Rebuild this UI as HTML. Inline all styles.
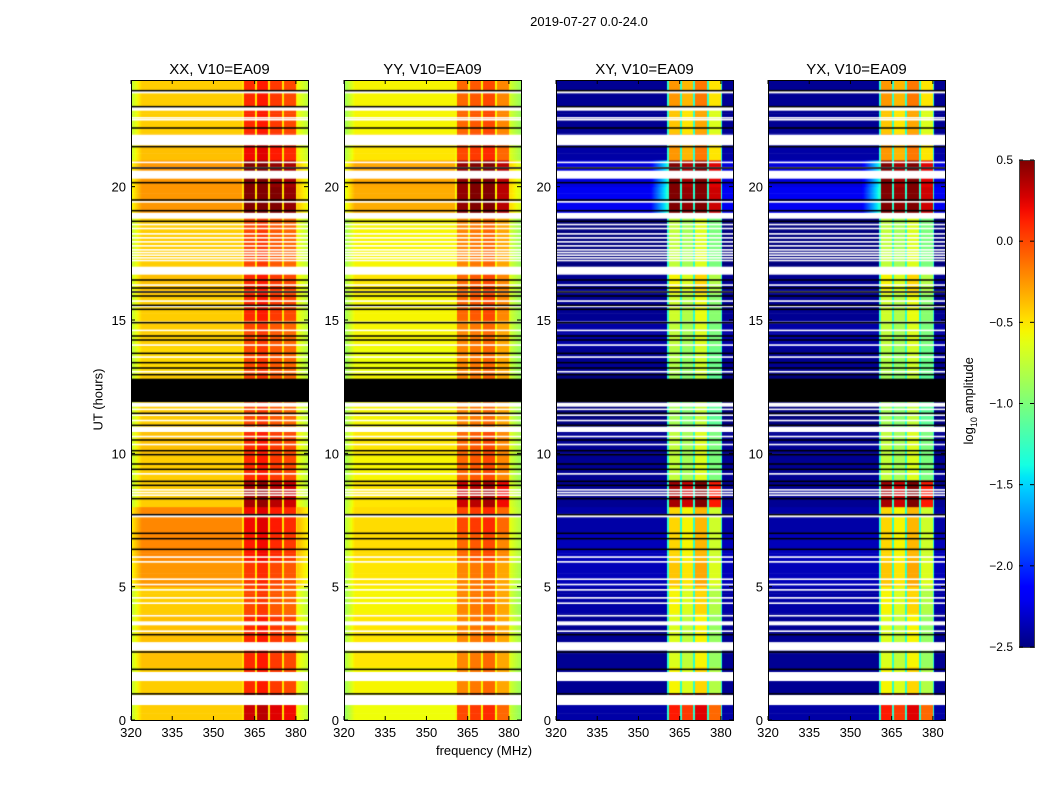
<!DOCTYPE html>
<html><head><meta charset="utf-8">
<style>
body{margin:0;background:#fff;width:1050px;height:800px;overflow:hidden;position:relative;font-family:"Liberation Sans","DejaVu Sans",sans-serif;}
.t{position:absolute;white-space:nowrap;color:#000;}
canvas{position:absolute;}
</style></head><body>
<div class="t" style="left:489px;top:14px;width:200px;text-align:center;font-size:13px;">2019-07-27 0.0-24.0</div>
<div class="t" style="left:40px;top:392px;width:116px;text-align:center;font-size:13px;transform:rotate(-90deg);">UT (hours)</div>
<div class="t" style="left:404px;top:743px;width:160px;text-align:center;font-size:13px;">frequency (MHz)</div>
<div class="t" style="left:910px;top:392px;width:120px;text-align:center;font-size:13px;transform:rotate(-90deg);">log<sub style="font-size:9px">10</sub> amplitude</div>
<svg id="svg" width="1050" height="800" style="position:absolute;left:0;top:0"></svg>
<script>
// ---- data ----
const panelTitles = ["XX, V10=EA09","YY, V10=EA09","XY, V10=EA09","YX, V10=EA09"];
const xTicks = [320,335,350,365,380];
const yTicks = [0,5,10,15,20];
const cbTicks = [0.5,0.0,-0.5,-1.0,-1.5,-2.0,-2.5];
// hourly levels (log10 amplitude) for 0..23 h
const xxLow  = [-0.42,-0.42,-0.38,-0.38,-0.42,-0.25,-0.2,-0.2,-0.42,-0.42,-0.38,-0.42,-0.42,-0.46,-0.42,-0.42,-0.38,-0.42,-0.42,-0.25,-0.25,-0.38,-0.42,-0.42];
const xxHigh = [0.2,0.0,0.0,0.0,-0.1,-0.05,0.05,0.1,0.3,0.0,0.0,-0.1,-0.1,-0.1,-0.1,0.0,0.0,-0.1,-0.1,0.45,0.4,0.1,0.0,0.0];
const yyLow  = [-0.58,-0.55,-0.5,-0.5,-0.55,-0.5,-0.47,-0.47,-0.5,-0.55,-0.5,-0.55,-0.55,-0.58,-0.55,-0.55,-0.5,-0.55,-0.55,-0.32,-0.3,-0.5,-0.55,-0.55];
const yyHigh = [0.0,-0.2,-0.2,-0.2,-0.2,-0.2,-0.1,0.0,0.3,-0.1,-0.1,-0.2,-0.2,-0.2,-0.2,-0.1,-0.1,-0.2,-0.2,0.45,0.45,0.0,-0.1,-0.1];
const xyLow  = [-2.4,-2.45,-2.45,-2.45,-2.4,-2.35,-2.35,-2.4,-2.45,-2.45,-2.45,-2.5,-2.5,-2.45,-2.4,-2.45,-2.45,-2.5,-2.5,-2.2,-2.25,-2.4,-2.45,-2.45];
const xyHigh = [0.1,-0.6,-0.7,-0.7,-0.6,-0.45,-0.5,-0.5,0.35,-0.8,-0.8,-0.9,-0.9,-0.85,-0.8,-0.75,-0.6,-0.8,-0.8,0.5,0.45,-0.3,-0.45,-0.3];
const yxLow  = [-2.4,-2.45,-2.45,-2.45,-2.4,-2.35,-2.35,-2.4,-2.45,-2.45,-2.45,-2.5,-2.5,-2.45,-2.4,-2.45,-2.45,-2.5,-2.5,-2.2,-2.25,-2.4,-2.45,-2.45];
const yxHigh = [0.1,-0.6,-0.7,-0.7,-0.6,-0.45,-0.5,-0.5,0.35,-0.8,-0.8,-0.9,-0.9,-0.85,-0.8,-0.75,-0.6,-0.8,-0.8,0.5,0.45,-0.3,-0.45,-0.3];
const gapLevel = [-0.5,-0.55,-1.3,-1.3];
const subBandOffset = [[0.1,0.15,0.05,0.0],[0.0,0.05,0.1,-0.1],[0.05,-0.05,0.15,-0.2],[0.05,-0.05,0.15,-0.2]];
const subBandEdges = [360.7,365.4,370.3,375.2,380.2];
// flagged (white) intervals in hours
const flagStart = [0.56,1.46,2.6,3.3,3.55,3.88,4.35,4.55,4.85,5.05,5.25,5.9,6.08,7.6,8.4,8.5,8.6,9.2,10.3,10.6,10.8,11.2,11.4,11.62,11.75,12.58,13.03,13.58,14.03,14.58,14.88,15.48,15.68,16.03,16.28,16.7,17.2,17.3,17.4,17.5,17.6,17.75,17.9,18.05,18.2,18.4,18.55,18.8,19.4,20.3,20.68,20.88,21.55,22.48,22.55,22.85,23.5];
const flagEnd   = [0.94,1.8,2.92,3.36,3.7,3.94,4.41,4.61,4.91,5.11,5.31,5.96,6.14,7.72,8.46,8.56,8.66,9.26,10.36,10.66,11.0,11.26,11.46,11.68,11.9,12.64,13.09,13.64,14.09,14.64,14.94,15.54,15.74,16.09,16.34,17.0,17.26,17.36,17.46,17.56,17.66,17.81,17.96,18.11,18.26,18.46,18.61,19.02,19.46,20.6,20.74,20.94,21.95,22.54,22.61,23.0,23.6];
// black line positions (hours)
const blackLines = [0.98,1.9,2.55,3.2,6.4,6.8,7.0,7.7,8.3,8.8,8.95,9.4,9.6,9.95,10.1,10.5,11.05,11.5,12.95,13.2,13.4,13.75,14.25,14.4,14.9,15.4,15.55,15.9,16.05,16.2,16.5,18.7,19.1,19.5,20.15,20.7,21.5,22.2,23.0,23.6];
const blackBand = [11.92,12.8];
// ---- layout ----
const panelLeft=[131,344,556,768], PW=177, PT=80, PH=640;
const fMin=320, fMax=384.4, tMin=0, tMax=24;
const xs=(p,f)=>panelLeft[p]+(f-fMin)/(fMax-fMin)*PW;
const ys=t=>PT+PH-(t-tMin)/(tMax-tMin)*PH;
const lows=[xxLow,yyLow,xyLow,yxLow], highs=[xxHigh,yyHigh,xyHigh,yxHigh];
function seg(x,pts){for(let i=1;i<pts.length;i++){if(x<=pts[i][0]){const a=pts[i-1],b=pts[i];return a[1]+(b[1]-a[1])*(x-a[0])/(b[0]-a[0]);}}return pts[pts.length-1][1];}
function jet(v){let x=(v+2.5)/3;x=Math.max(0,Math.min(1,x));
 const r=seg(x,[[0,0],[0.35,0],[0.66,1],[0.89,1],[1,0.5]]);
 const g=seg(x,[[0,0],[0.125,0],[0.375,1],[0.64,1],[0.91,0],[1,0]]);
 const b=seg(x,[[0,0.5],[0.11,1],[0.34,1],[0.65,0],[1,0]]);
 return `rgb(${Math.round(r*255)},${Math.round(g*255)},${Math.round(b*255)})`;}
function value(p,t,f){const h=Math.min(23,Math.floor(t));
 for(const e of subBandEdges){ if(Math.abs(f-e)<0.3) return gapLevel[p]; }
 if(f>subBandEdges[0]&&f<subBandEdges[4]){let k=0;while(f>subBandEdges[k+1])k++;return highs[p][h]+subBandOffset[p][k];}
 let v=lows[p][h];
 if(p<2&&f<324) v-=0.35*(324-f)/4;
 if(p<2&&f>380.5) v-=0.15+0.2*(f-380.5)/4;
 if(p>=2&&f>354&&f<360.5&&(h==19||h==20)) v+=0.8*(f-354)/6;
 return v;}
const svg=document.getElementById('svg');const NS='http://www.w3.org/2000/svg';
function mk(tag,attrs){const e=document.createElementNS(NS,tag);for(const k in attrs)e.setAttribute(k,attrs[k]);svg.appendChild(e);return e;}
const dt=0.25;
for(let p=0;p<4;p++){
 const cv=document.createElement('canvas');cv.width=PW;cv.height=PH;
 cv.style.left=panelLeft[p]+'px';cv.style.top=PT+'px';
 
 
 document.body.insertBefore(cv,svg);
 const ctx=cv.getContext('2d');
 for(let t=tMin;t<tMax;t+=dt){
  const y0=ys(t+dt)-PT,y1=ys(t)-PT;
  for(let px=0;px<PW;px++){const f=fMin+(px+0.5)/PW*(fMax-fMin);
   ctx.fillStyle=jet(value(p,t+dt/2,f));ctx.fillRect(px,y0,1,y1-y0+0.5);}
 }
 ctx.fillStyle='#fff';
 for(let i=0;i<flagStart.length;i++){const a=ys(flagEnd[i])-PT,b=ys(flagStart[i])-PT;ctx.fillRect(0,a,PW,Math.max(1.5,b-a));}
 ctx.fillStyle='#000';
 for(const l of blackLines){ctx.fillRect(0,ys(l)-PT-0.75,PW,1.5);}
 ctx.fillRect(0,ys(blackBand[1])-PT,PW,ys(blackBand[0])-ys(blackBand[1]));
 const fr=mk('rect',{x:panelLeft[p]+0.5,y:PT+0.5,width:PW,height:PH,fill:'none',stroke:'#000','stroke-width':1});
 
 
 const tt=mk('text',{x:panelLeft[p]+PW/2,y:74,'text-anchor':'middle','font-size':15});tt.textContent=panelTitles[p];
 
 
 for(const f of xTicks){const x=xs(p,f);
  mk('line',{x1:x,x2:x,y1:PT+PH,y2:PT+PH-4,stroke:'#000'});mk('line',{x1:x,x2:x,y1:PT,y2:PT+4,stroke:'#000'});
  const tx=mk('text',{x:x,y:PT+PH+17,'text-anchor':'middle','font-size':13});tx.textContent=f;
  
  }
 for(const t of yTicks){const y=ys(t);
  mk('line',{x1:panelLeft[p],x2:panelLeft[p]+4,y1:y,y2:y,stroke:'#000'});mk('line',{x1:panelLeft[p]+PW,x2:panelLeft[p]+PW-4,y1:y,y2:y,stroke:'#000'});
  const ty=mk('text',{x:panelLeft[p]-5,y:y+5,'text-anchor':'end','font-size':13});ty.textContent=t;
  
  }
}
// colorbar
const cbX=1019,cbW=15,cbT=160,cbH=487;
const defs=mk('defs',{});const g=document.createElementNS(NS,'linearGradient');
g.setAttribute('id','jetg');g.setAttribute('x1','0');g.setAttribute('y1','1');g.setAttribute('x2','0');g.setAttribute('y2','0');defs.appendChild(g);
for(let i=0;i<=40;i++){const s=document.createElementNS(NS,'stop');s.setAttribute('offset',i/40);s.setAttribute('stop-color',jet(-2.5+3*i/40));g.appendChild(s);}
const cb=mk('rect',{x:cbX+0.5,y:cbT+0.5,width:cbW,height:cbH,fill:'url(#jetg)',stroke:'#444'});


for(const v of cbTicks){const y=cbT+(0.5-v)/3*cbH;
 mk('line',{x1:cbX,x2:cbX+4,y1:y,y2:y,stroke:'#000'});mk('line',{x1:cbX+cbW,x2:cbX+cbW-4,y1:y,y2:y,stroke:'#000'});
 const tl=mk('text',{x:cbX-6,y:y+4,'font-size':12,'text-anchor':'end'});tl.textContent=v.toFixed(1).replace('-','\u2212');
 
 }
</script>
</body></html>
